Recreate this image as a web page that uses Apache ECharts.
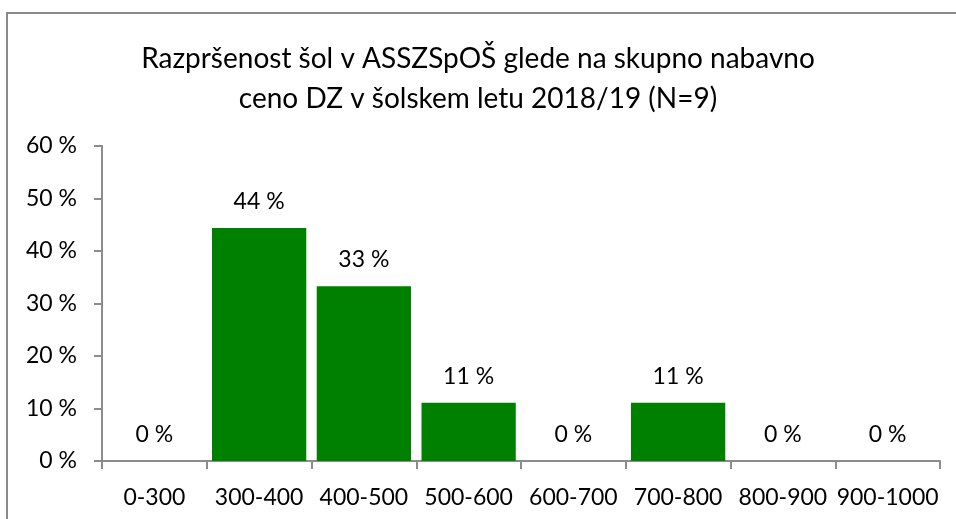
<!DOCTYPE html>
<html>
<head>
<meta charset="utf-8">
<script src="https://cdn.jsdelivr.net/npm/echarts@6/dist/echarts.min.js"></script>
<style>
  html, body { margin: 0; padding: 0; background: #fff; }
  #chart { width: 956px; height: 519px; }
</style>
</head>
<body>
<div id="chart"></div>
<script>
// Price ranges (EUR) and share of schools in each range
const categories = ['0-300', '300-400', '400-500', '500-600', '600-700', '700-800', '800-900', '900-1000'];
const shares = [0, 44.4, 33.3, 11.1, 0, 11.1, 0, 0];
const yTicks = [0, 10, 20, 30, 40, 50, 60];

const titleLines = [
  'Razpršenost šol v ASSZSpOŠ glede na skupno nabavno',
  'ceno DZ v šolskem letu 2018/19 (N=9)'
];

const FONT = 'Lato, "Open Sans", sans-serif';
const axisGray = '#8c8c8c';

const chart = echarts.init(document.getElementById('chart'), null, { renderer: 'canvas' });

chart.setOption({
  animation: false,
  backgroundColor: '#ffffff',
  textStyle: { fontFamily: FONT },
  title: {
    text: titleLines.join('\n'),
    left: 'center',
    top: 34,
    textStyle: {
      fontFamily: FONT,
      fontSize: 28,
      fontWeight: 'normal',
      color: '#000',
      lineHeight: 40
    }
  },
  graphic: [{
    type: 'rect',
    shape: { x: 7, y: 13, width: 1000, height: 600 },
    style: { fill: 'none', stroke: '#8a8a8a', lineWidth: 2 },
    silent: true
  }],
  grid: { left: 102, right: 16, top: 146, bottom: 58 },
  xAxis: {
    type: 'category',
    data: categories,
    axisLine: { lineStyle: { color: axisGray, width: 2 } },
    axisTick: { show: true, length: 8, lineStyle: { color: axisGray, width: 2 } },
    axisLabel: { color: '#000', fontSize: 23, margin: 25, fontFamily: FONT, interval: 0 }
  },
  yAxis: {
    type: 'value',
    min: yTicks[0],
    max: yTicks[yTicks.length - 1],
    interval: 10,
    splitLine: { show: false },
    axisLine: { show: true, lineStyle: { color: axisGray, width: 2 } },
    axisTick: { show: true, length: 8, lineStyle: { color: axisGray, width: 2 } },
    axisLabel: {
      color: '#000', fontSize: 23, margin: 25, fontFamily: FONT,
      formatter: v => v + ' %'
    }
  },
  series: [{
    type: 'bar',
    data: shares,
    barCategoryGap: '10%',
    itemStyle: { color: '#008000' },
    label: {
      show: true,
      position: 'top',
      distance: 15,
      color: '#000',
      fontSize: 23,
      fontFamily: FONT,
      formatter: p => Math.round(p.value) + ' %'
    }
  }]
});
</script>
</body>
</html>
